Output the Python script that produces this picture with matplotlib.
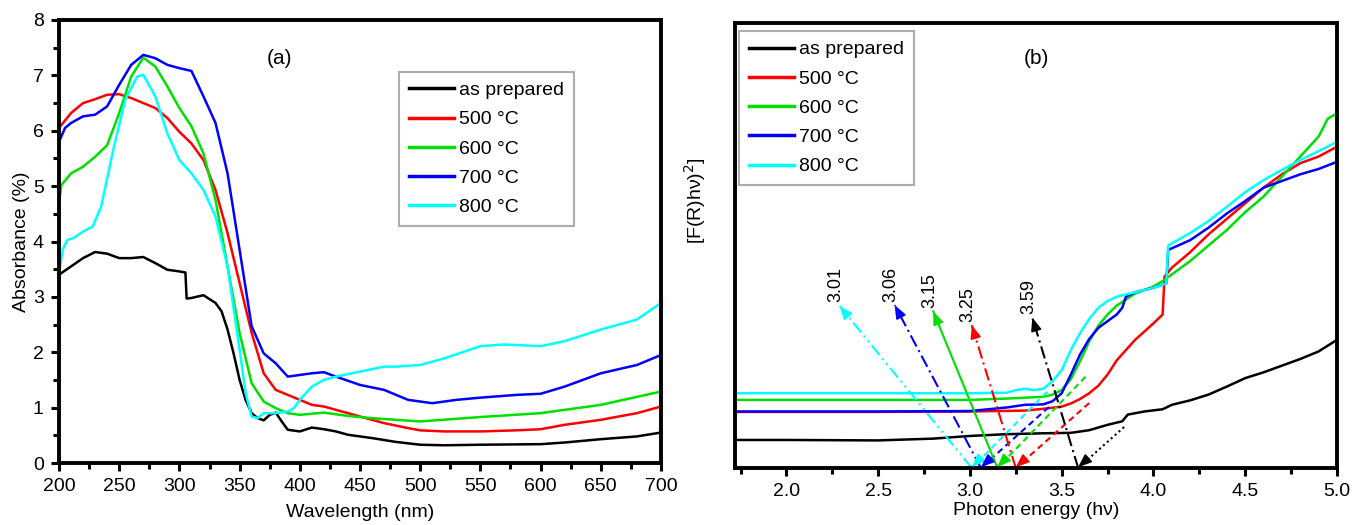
import matplotlib
matplotlib.use("Agg")
import matplotlib.pyplot as plt
from matplotlib.ticker import MultipleLocator
import numpy as np

plt.rcParams['font.family'] = ['Liberation Sans', 'DejaVu Sans']

# ---------------- Panel (a) data: absorbance vs wavelength ----------------
wl_black = [200, 210, 220, 230, 240, 250, 260, 270, 280, 290, 300, 305, 306, 310, 320, 330, 335, 340, 345, 350,
            355, 360, 365, 370, 375, 380, 385, 390, 400, 410, 420, 430, 440, 450, 460, 480, 500, 520, 550, 600,
            620, 650, 680, 700]
ab_black = [3.40, 3.55, 3.70, 3.81, 3.78, 3.70, 3.70, 3.72, 3.61, 3.49, 3.46, 3.44, 2.97, 2.98, 3.03, 2.89, 2.74,
            2.41, 1.98, 1.50, 1.14, 0.90, 0.81, 0.77, 0.87, 0.91, 0.75, 0.60, 0.57, 0.64, 0.61, 0.57, 0.51, 0.48,
            0.45, 0.38, 0.33, 0.32, 0.33, 0.34, 0.37, 0.43, 0.48, 0.55]

wl_red = [200, 210, 220, 230, 240, 250, 260, 270, 280, 290, 300, 310, 320, 330, 340, 350, 360, 370, 380, 390,
          400, 410, 420, 430, 450, 470, 490, 500, 520, 550, 580, 600, 620, 650, 680, 700]
ab_red = [6.05, 6.32, 6.50, 6.57, 6.65, 6.66, 6.59, 6.50, 6.41, 6.23, 5.98, 5.77, 5.47, 4.93, 4.15, 3.25, 2.35,
          1.62, 1.32, 1.23, 1.14, 1.05, 1.02, 0.96, 0.84, 0.72, 0.63, 0.59, 0.57, 0.57, 0.59, 0.61, 0.69, 0.78,
          0.90, 1.02]

wl_green = [200, 202, 210, 220, 230, 240, 250, 260, 270, 280, 290, 300, 310, 320, 330, 340, 350, 360, 370, 380,
            390, 400, 420, 440, 460, 500, 550, 600, 650, 700]
ab_green = [4.70, 5.02, 5.23, 5.35, 5.53, 5.74, 6.32, 6.98, 7.32, 7.16, 6.80, 6.41, 6.08, 5.59, 4.75, 3.55, 2.35,
            1.44, 1.11, 0.99, 0.90, 0.87, 0.91, 0.85, 0.81, 0.75, 0.83, 0.90, 1.05, 1.29]

wl_blue = [200, 205, 210, 220, 230, 240, 250, 260, 270, 280, 290, 300, 310, 320, 330, 340, 350, 360, 370, 380,
           390, 400, 410, 420, 430, 450, 470, 490, 510, 530, 550, 580, 600, 620, 650, 680, 700]
ab_blue = [5.80, 6.05, 6.14, 6.26, 6.29, 6.44, 6.83, 7.19, 7.37, 7.31, 7.19, 7.13, 7.08, 6.62, 6.14, 5.23, 3.85,
           2.47, 1.98, 1.80, 1.56, 1.59, 1.62, 1.64, 1.56, 1.41, 1.32, 1.14, 1.08, 1.14, 1.18, 1.23, 1.25, 1.38,
           1.62, 1.77, 1.95]

wl_cyan = [200, 203, 207, 212, 220, 228, 235, 245, 255, 265, 270, 280, 290, 300, 310, 320, 330, 340, 350, 355,
           360, 365, 370, 380, 390, 395, 400, 410, 420, 430, 450, 470, 480, 500, 520, 550, 570, 600, 620, 650,
           680, 700]
ab_cyan = [3.40, 3.85, 4.03, 4.06, 4.18, 4.27, 4.63, 5.65, 6.56, 6.98, 7.01, 6.62, 5.95, 5.47, 5.23, 4.93, 4.45,
           3.55, 2.05, 1.26, 0.84, 0.81, 0.90, 0.90, 0.93, 0.99, 1.14, 1.38, 1.50, 1.56, 1.65, 1.74, 1.74, 1.77,
           1.89, 2.11, 2.14, 2.11, 2.20, 2.41, 2.59, 2.89]

# ---------------- Panel (b) data: Tauc plot (arbitrary units) ----------------
e_black = [1.7, 2.0, 2.5, 2.8, 3.0, 3.2, 3.4, 3.55, 3.65, 3.75, 3.83, 3.86, 3.95, 4.05, 4.1, 4.2, 4.3, 4.4, 4.5,
           4.6, 4.7, 4.8, 4.9, 5.0]
t_black = [0.63, 0.63, 0.62, 0.66, 0.72, 0.76, 0.78, 0.79, 0.85, 0.97, 1.05, 1.20, 1.27, 1.32, 1.42, 1.52, 1.65,
           1.83, 2.02, 2.15, 2.30, 2.45, 2.62, 2.88]

e_red = [1.7, 2.5, 3.0, 3.3, 3.4, 3.5, 3.55, 3.6, 3.65, 3.7, 3.75, 3.8, 3.9, 4.0, 4.05, 4.06, 4.1, 4.2, 4.3, 4.4,
         4.5, 4.6, 4.7, 4.8, 4.9, 5.0]
t_red = [1.26, 1.26, 1.27, 1.29, 1.33, 1.38, 1.45, 1.55, 1.68, 1.85, 2.10, 2.42, 2.88, 3.25, 3.45, 4.30, 4.50,
         4.85, 5.25, 5.60, 5.95, 6.30, 6.60, 6.85, 7.00, 7.22]

e_green = [1.7, 2.5, 3.0, 3.2, 3.4, 3.45, 3.5, 3.55, 3.6, 3.65, 3.7, 3.75, 3.8, 3.9, 4.0, 4.05, 4.1, 4.2, 4.3,
           4.4, 4.5, 4.6, 4.7, 4.8, 4.9, 4.95, 5.0]
t_green = [1.53, 1.53, 1.53, 1.56, 1.60, 1.65, 1.75, 2.00, 2.40, 2.85, 3.20, 3.45, 3.65, 3.92, 4.08, 4.20, 4.35,
           4.65, 5.00, 5.35, 5.75, 6.10, 6.55, 7.00, 7.45, 7.85, 7.97]

e_blue = [1.7, 2.5, 3.0, 3.2, 3.3, 3.4, 3.45, 3.5, 3.55, 3.6, 3.65, 3.7, 3.75, 3.8, 3.83, 3.85, 3.9, 4.0, 4.07,
          4.08, 4.2, 4.3, 4.4, 4.5, 4.6, 4.7, 4.8, 4.9, 5.0]
t_blue = [1.27, 1.27, 1.28, 1.36, 1.42, 1.43, 1.50, 1.68, 2.10, 2.55, 2.90, 3.15, 3.30, 3.45, 3.60, 3.85, 3.95,
          4.05, 4.15, 4.90, 5.12, 5.40, 5.72, 6.00, 6.30, 6.45, 6.60, 6.72, 6.88]

e_cyan = [1.7, 2.5, 3.0, 3.2, 3.25, 3.3, 3.35, 3.4, 3.45, 3.5, 3.55, 3.6, 3.65, 3.7, 3.75, 3.8, 3.9, 4.0, 4.07,
          4.08, 4.2, 4.3, 4.4, 4.5, 4.6, 4.7, 4.8, 4.9, 5.0]
t_cyan = [1.68, 1.68, 1.68, 1.69, 1.75, 1.78, 1.75, 1.78, 1.95, 2.20, 2.65, 3.03, 3.35, 3.60, 3.75, 3.85, 3.95,
          4.05, 4.15, 5.00, 5.28, 5.55, 5.87, 6.20, 6.47, 6.70, 6.92, 7.12, 7.33]

labels = ['as prepared', '500 °C', '600 °C', '700 °C', '800 °C']
colors = ['black', '#ff0000', '#00e000', '#0000ff', '#00ffff']

# band-gap annotations (order: 800, 700, 600, 500, as prepared)
gap_values = [3.01, 3.06, 3.15, 3.25, 3.59]
gap_labels = ['3.01', '3.06', '3.15', '3.25', '3.59']
gap_colors = ['#00ffff', '#0000ff', '#00e000', '#ff0000', 'black']
gap_tip_x = [2.29, 2.59, 2.80, 3.01, 3.34]
gap_tip_y = [3.64, 3.66, 3.52, 3.21, 3.38]
tan_end_x = [3.42, 3.43, 3.63, 3.65, 3.84]
tan_end_y = [1.71, 1.37, 2.05, 1.46, 0.92]
arrow_styles = [(0, (6, 2, 1, 2, 1, 2)), (0, (6, 2, 1, 2)), '-', (0, (6, 2, 1, 2)), (0, (6, 2, 1, 2))]
tan_styles = [(0, (3, 2)), (0, (3, 2)), (0, (3, 2)), (0, (3, 2)), (0, (1, 1.5))]

fig = plt.figure(figsize=(13.53, 5.25), dpi=100)
axa = fig.add_axes([59 / 1353, 1 - 463 / 525, 602 / 1353, 443 / 525])
axb = fig.add_axes([735 / 1353, 1 - 468 / 525, 602 / 1353, 445 / 525])

lw = 1.8
for wl, ab, lab, c in zip([wl_black, wl_red, wl_green, wl_blue, wl_cyan],
                          [ab_black, ab_red, ab_green, ab_blue, ab_cyan], labels, colors):
    axa.plot(wl, ab, color=c, lw=lw, label=lab)

for e, t, lab, c in zip([e_black, e_red, e_green, e_blue, e_cyan],
                        [t_black, t_red, t_green, t_blue, t_cyan], labels, colors):
    axb.plot(e, t, color=c, lw=lw, label=lab)


def head(ax, start, tip, color):
    sx, sy = start
    tx, ty = tip
    back = (tx - 0.06 * (tx - sx), ty - 0.06 * (ty - sy))
    ax.annotate('', xy=tip, xytext=back,
                arrowprops=dict(arrowstyle='-|>,head_length=0.8,head_width=0.32', color=color,
                                lw=1.2, shrinkA=0, shrinkB=0))


for g, gl, c, tx, ty, ex, ey, ls, tls in zip(gap_values, gap_labels, gap_colors, gap_tip_x, gap_tip_y,
                                             tan_end_x, tan_end_y, arrow_styles, tan_styles):
    # pointer arrow from axis to label
    axb.plot([g, tx], [0, ty], color=c, lw=1.5, linestyle=ls)
    head(axb, (g, 0), (tx, ty), c)
    # tangent extrapolation to the axis
    axb.plot([ex, g], [ey, 0], color=c, lw=1.5, linestyle=tls)
    head(axb, (ex, ey), (g, 0.02), c)
    axb.text(tx - 0.02, ty + 0.08, gl, rotation=90, ha='center', va='bottom', fontsize=13)

# ---- axes styling ----
for ax in (axa, axb):
    for s in ax.spines.values():
        s.set_linewidth(2.8)
    ax.tick_params(which='both', direction='out', width=2.2, top=False, right=False)
    ax.tick_params(which='major', length=6, labelsize=14, pad=5)
    ax.tick_params(which='minor', length=4)

axa.set_xlim(200, 700)
axa.set_ylim(0, 8)
axa.xaxis.set_major_locator(MultipleLocator(50))
axa.xaxis.set_minor_locator(MultipleLocator(25))
axa.yaxis.set_major_locator(MultipleLocator(1))
axa.yaxis.set_minor_locator(MultipleLocator(0.5))
axa.set_xlabel('Wavelength (nm)', fontsize=14, labelpad=6)
axa.set_ylabel('Absorbance (%)', fontsize=14, labelpad=2)
axa.text(383, 7.3, '(a)', fontsize=15, ha='center', va='center')

axb.set_xlim(1.72, 5.0)
axb.set_ylim(0, 10)
axb.xaxis.set_major_locator(MultipleLocator(0.5))
axb.xaxis.set_minor_locator(MultipleLocator(0.25))
axb.xaxis.set_major_formatter(matplotlib.ticker.FormatStrFormatter('%.1f'))
axb.set_yticks([])
axb.tick_params(axis='y', which='both', left=False)
axb.set_xlabel('Photon energy (hν)', fontsize=14, labelpad=1)
axb.set_ylabel('[F(R)hν)$^{2}$]', fontsize=14)
axb.yaxis.set_label_coords(-0.045, 0.6)
axb.text(3.36, 9.2, '(b)', fontsize=15, ha='center', va='center')

leg_kw = dict(fontsize=14, frameon=True, fancybox=False, handlelength=2.3, handletextpad=0.3,
              labelspacing=0.6, borderaxespad=0, borderpad=0.5)
la = axa.legend(loc='upper left', bbox_to_anchor=(0.565, 0.883), **leg_kw)
lb = axb.legend(loc='upper left', bbox_to_anchor=(0.007, 0.982), **leg_kw)
for lg in (la, lb):
    lg.get_frame().set_edgecolor('#999999')
    lg.get_frame().set_linewidth(1.5)
    for l in lg.get_lines():
        l.set_linewidth(2.5)

fig.savefig('out.png', dpi=100)
